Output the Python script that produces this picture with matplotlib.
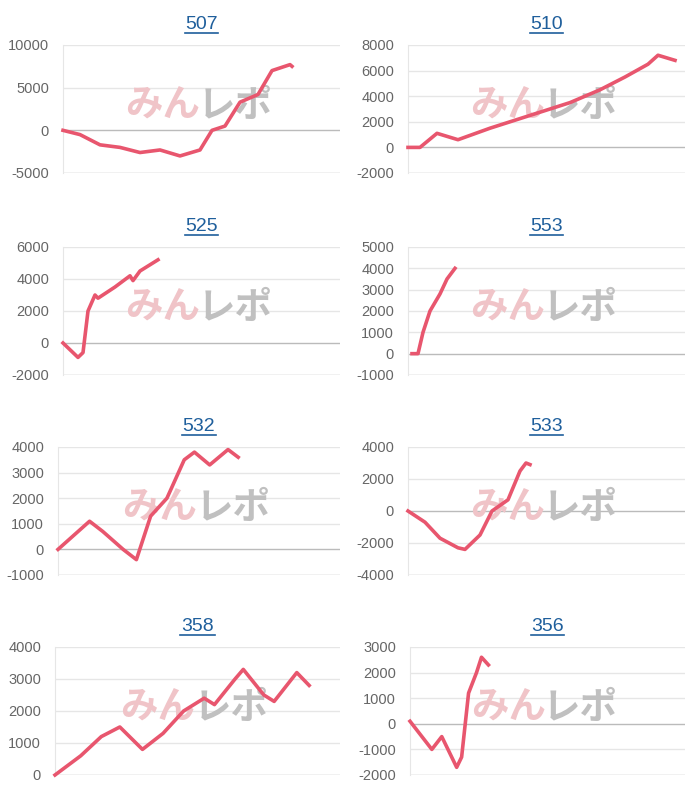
import matplotlib
matplotlib.use('Agg')
import matplotlib.pyplot as plt

plt.rcParams['font.family'] = ['Liberation Sans', 'DejaVu Sans']

# x values are positions along the shared x range (0..277), y in points
titles = ['507', '510', '525', '553', '532', '533', '358', '356']

x507 = [0, 17, 37, 57, 77, 97, 117, 137, 149, 162, 177, 195, 209, 227, 229]
y507 = [0, -500, -1700, -2000, -2600, -2300, -3000, -2300, 0, 500, 3300, 4200, 7000, 7700, 7500]
x510 = [0, 12, 29, 50, 82, 122, 162, 192, 217, 240, 250, 267]
y510 = [0, 0, 1100, 600, 1500, 2500, 3500, 4500, 5500, 6500, 7200, 6800]
x525 = [0, 15, 20, 25, 32, 35, 52, 67, 70, 77, 95]
y525 = [0, -900, -600, 2000, 3000, 2800, 3500, 4200, 3900, 4500, 5200]
x553 = [4, 10, 15, 22, 32, 39, 47]
y553 = [0, 0, 1000, 2000, 2800, 3500, 4000]
x532 = [0, 31, 44, 64, 77, 91, 107, 124, 134, 149, 167, 177]
y532 = [0, 1100, 700, 0, -400, 1300, 2000, 3500, 3800, 3300, 3900, 3600]
x533 = [0, 17, 32, 50, 57, 72, 84, 100, 112, 118, 122]
y533 = [0, -700, -1700, -2300, -2400, -1500, 0, 700, 2500, 3000, 2900]
x358 = [0, 25, 45, 63, 85, 105, 125, 145, 155, 175, 183, 203, 213, 235, 247]
y358 = [0, 600, 1200, 1500, 800, 1300, 2000, 2400, 2200, 3000, 3300, 2500, 2300, 3200, 2800]
x356 = [0, 22, 32, 47, 52, 59, 67, 72, 79]
y356 = [100, -1000, -500, -1700, -1300, 1200, 2000, 2600, 2300]

xs = [x507, x510, x525, x553, x532, x533, x358, x356]
ys = [y507, y510, y525, y553, y532, y533, y358, y356]
ylims = [(-5000, 10000, 5000), (-2000, 8000, 2000), (-2000, 6000, 2000), (-1000, 5000, 1000),
         (-1000, 4000, 1000), (-4000, 4000, 2000), (0, 4000, 1000), (-2000, 3000, 1000)]

W, H = 700, 800
lefts = [63, 408, 63, 408, 58, 408, 55, 410]
tops = [45, 45, 247, 247, 447, 447, 647, 647]
ah = 128

fig = plt.figure(figsize=(7, 8), dpi=100)
for i in range(8):
    l = lefts[i]
    r = 340 if i % 2 == 0 else 685
    ax = fig.add_axes([l / W, 1 - (tops[i] + ah) / H, (r - l) / W, ah / H])
    lo, hi, st = ylims[i]
    ax.set_xlim(0, 277)
    ax.set_ylim(lo, hi)
    ticks = list(range(lo, hi + 1, st))
    ax.set_yticks(ticks)
    ax.set_yticklabels([str(t) for t in ticks])
    ax.tick_params(axis='y', length=0, labelsize=10.5, labelcolor='#666666', pad=10)
    ax.set_xticks([])
    for s in ax.spines.values():
        s.set_visible(False)
    ax.spines['left'].set_visible(True)
    ax.spines['left'].set_color('#e6e6e6')
    for t in ticks:
        ax.axhline(t, color='#bbbbbb' if t in (0, lo) else '#e6e6e6', lw=1, zorder=0)
    ax.text(0.36, 0.53, 'みん', transform=ax.transAxes, ha='center', va='center',
            fontsize=27, fontweight='bold', color='#f0c4c8', family='Noto Sans CJK JP',
            zorder=1)
    ax.text(0.62, 0.53, 'レポ', transform=ax.transAxes, ha='center', va='center',
            fontsize=27, fontweight='bold', color='#c0c0c0', family='Noto Sans CJK JP',
            zorder=1)
    ax.plot(xs[i], ys[i], color='#e8566e', lw=2.6, zorder=3, clip_on=False)
    ax.text(0.5, 1.09, titles[i], transform=ax.transAxes, ha='center', va='bottom',
            fontsize=14, color='#1f5f9c')
    ax.plot([0.44, 0.56], [1.09, 1.09], transform=ax.transAxes, color='#1f5f9c',
            lw=1.2, clip_on=False)

fig.savefig('out.png', dpi=100)
